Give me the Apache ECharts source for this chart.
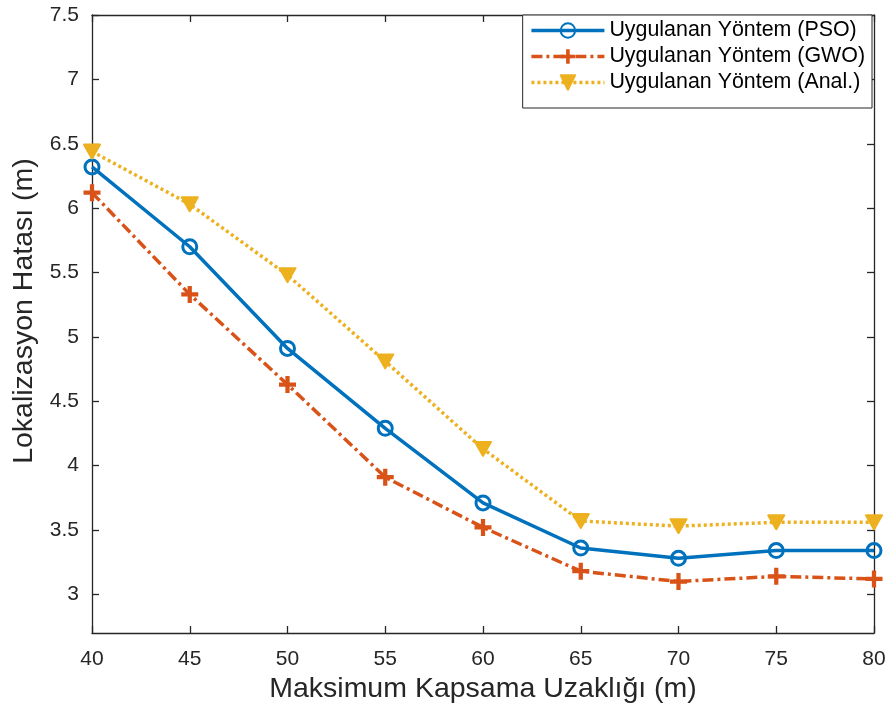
<!DOCTYPE html>
<html>
<head>
<meta charset="utf-8">
<script src="https://cdn.jsdelivr.net/npm/echarts@6/dist/echarts.min.js"></script>
<style>
  html, body { margin: 0; padding: 0; background: #fff; }
  #chart { width: 891px; height: 720px; }
</style>
</head>
<body>
<div id="chart"></div>
<script>
// Maximum coverage distance (m)
const distances = [40, 45, 50, 55, 60, 65, 70, 75, 80];
// Localization error (m) for each method
const psoError  = [6.32, 5.70, 4.91, 4.29, 3.71, 3.36, 3.28, 3.34, 3.34];
const gwoError  = [6.12, 5.33, 4.63, 3.91, 3.52, 3.18, 3.10, 3.14, 3.12];
const analError = [6.44, 6.03, 5.48, 4.81, 4.13, 3.57, 3.53, 3.56, 3.56];
// Y axis tick positions
const yTicks = [3, 3.5, 4, 4.5, 5, 5.5, 6, 6.5, 7, 7.5];
const seriesNames = ['Uygulanan Yöntem (PSO)', 'Uygulanan Yöntem (GWO)', 'Uygulanan Yöntem (Anal.)'];

const FONT = "'Liberation Sans', Arial, Helvetica, sans-serif";
const AX = '#262626';
const BLUE = '#0072BD', ORANGE = '#D95319', YELLOW = '#EDB120';

const pairs = ys => distances.map((d, i) => [d, ys[i]]);

const axisLineStyle = { color: AX, width: 1.3 };
const tickStyle = { show: true, inside: true, length: 7, lineStyle: { color: AX, width: 1.3 } };

const chart = echarts.init(document.getElementById('chart'), null, { renderer: 'canvas' });

chart.setOption({
  animation: false,
  backgroundColor: '#fff',
  grid: { left: 92, right: 17, top: 15, bottom: 87, containLabel: false, outerBoundsMode: 'none' },
  legend: {
    data: seriesNames,
    orient: 'vertical',
    right: 19,
    top: 15,
    itemWidth: 73,
    itemHeight: 18,
    itemGap: 5,
    padding: [5, 7, 15, 7],
    backgroundColor: '#fff',
    borderColor: AX,
    borderWidth: 1,
    lineStyle: { width: 3.5 },
    textStyle: { fontFamily: FONT, fontSize: 21.4, color: '#000' },
    selectedMode: false
  },
  xAxis: [
    {
      type: 'value', min: 40, max: 80, interval: 5, position: 'bottom',
      axisLine: { show: true, onZero: false, lineStyle: axisLineStyle },
      axisTick: tickStyle,
      axisLabel: { fontFamily: FONT, fontSize: 21, color: AX, margin: 16 },
      splitLine: { show: false },
      name: 'Maksimum Kapsama Uzaklığı (m)',
      nameLocation: 'middle',
      nameGap: 36,
      nameTextStyle: { fontFamily: FONT, fontSize: 28.5, color: AX }
    },
    {
      type: 'value', min: 40, max: 80, interval: 5, position: 'top',
      axisLine: { show: true, onZero: false, lineStyle: axisLineStyle },
      axisTick: tickStyle,
      axisLabel: { show: false },
      splitLine: { show: false }
    }
  ],
  yAxis: [
    {
      type: 'value', min: 2.7, max: 7.5, position: 'left',
      axisLine: { show: true, onZero: false, lineStyle: axisLineStyle },
      axisTick: Object.assign({ customValues: yTicks }, tickStyle),
      axisLabel: { customValues: yTicks, fontFamily: FONT, fontSize: 21, color: AX, margin: 13 },
      splitLine: { show: false },
      name: 'Lokalizasyon Hatası (m)',
      nameLocation: 'middle',
      nameGap: 52,
      nameTextStyle: { fontFamily: FONT, fontSize: 28.5, color: AX, padding: [0, 0, 0, 26] }
    },
    {
      type: 'value', min: 2.7, max: 7.5, position: 'right',
      axisLine: { show: true, onZero: false, lineStyle: axisLineStyle },
      axisTick: Object.assign({ customValues: yTicks }, tickStyle),
      axisLabel: { show: false },
      splitLine: { show: false }
    }
  ],
  series: [
    {
      name: seriesNames[0], type: 'line', data: pairs(psoError),
      xAxisIndex: 0, yAxisIndex: 0,
      symbol: 'circle', symbolSize: 14,
      lineStyle: { color: BLUE, width: 3.5 },
      itemStyle: { color: 'rgba(255,255,255,0)', borderColor: BLUE, borderWidth: 3 },
      emphasis: { disabled: true }, z: 2
    },
    {
      name: seriesNames[1], type: 'line', data: pairs(gwoError),
      xAxisIndex: 0, yAxisIndex: 0,
      symbol: 'path://M3,0H5V3H8V5H5V8H3V5H0V3H3Z', symbolSize: 17, symbolKeepAspect: true,
      lineStyle: { color: ORANGE, width: 3.5, type: [11, 4, 3, 4] },
      itemStyle: { color: ORANGE, borderWidth: 0 },
      emphasis: { disabled: true }, z: 3
    },
    {
      name: seriesNames[2], type: 'line', data: pairs(analError),
      xAxisIndex: 0, yAxisIndex: 0,
      symbol: 'path://M0,0H10L5,8.66Z', symbolSize: [16, 14],
      lineStyle: { color: YELLOW, width: 3.5, type: [3, 3] },
      itemStyle: { color: YELLOW, borderColor: YELLOW, borderWidth: 2, borderJoin: 'round' },
      emphasis: { disabled: true }, z: 4
    }
  ]
});
</script>
</body>
</html>
